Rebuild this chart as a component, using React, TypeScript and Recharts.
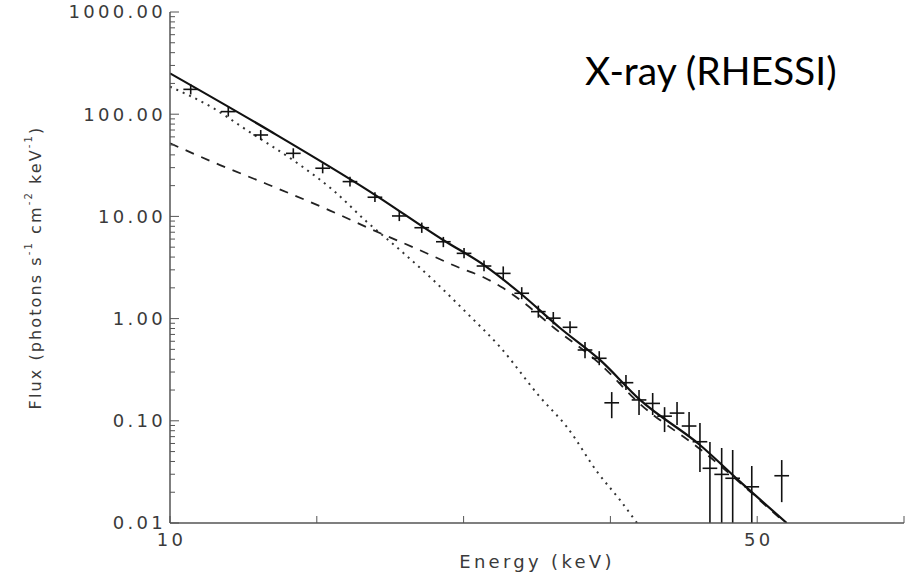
import { ComposedChart, Line, Scatter, XAxis, YAxis, ErrorBar } from 'recharts'

// axis ticks
const energyTicks = [10, 20, 30, 40, 50, 60]
const energyLabels = [10, 50]
const fluxMajor = [0.01, 0.1, 1, 10, 100, 1000]
const minorSteps = [2, 3, 4, 5, 6, 7, 8, 9]

// RHESSI count spectrum points (keV, photons s^-1 cm^-2 keV^-1)
const pointEnergy = [11.41, 13.97, 16.18, 18.4, 20.4, 22.26, 23.96, 25.62, 27.15, 28.62, 30.03, 31.39, 32.7, 33.96, 35.09, 36.11, 37.25, 38.27, 39.24, 40.09, 41.06, 41.95, 42.88, 43.69, 44.54, 45.36, 46.1, 46.78, 47.58, 48.33, 49.63, 51.67]
const pointFlux = [175, 106, 62.6, 41.4, 29.6, 21.9, 15.4, 10.1, 7.75, 5.65, 4.35, 3.27, 2.77, 1.77, 1.17, 1.01, 0.822, 0.493, 0.409, 0.15, 0.236, 0.16, 0.148, 0.111, 0.119, 0.0889, 0.0624, 0.0343, 0.0299, 0.0274, 0.0226, 0.029]
const pointLow = [156, 95, 56, 37, 26.4, 19.6, 13.8, 9.0, 6.9, 5.0, 3.9, 2.9, 2.37, 1.55, 1.02, 0.88, 0.72, 0.41, 0.35, 0.106, 0.2, 0.114, 0.114, 0.0776, 0.091, 0.0693, 0.0316, 0.01, 0.01, 0.01, 0.01, 0.016]
const pointHigh = [196, 119, 70, 46.4, 33.1, 24.5, 17.2, 11.3, 8.7, 6.3, 4.9, 3.7, 3.24, 2.03, 1.34, 1.16, 0.94, 0.59, 0.48, 0.191, 0.281, 0.2, 0.187, 0.136, 0.153, 0.122, 0.0951, 0.0621, 0.0542, 0.0518, 0.0361, 0.0413]
const binHalfWidth = 0.5

// total fit (solid)
const totalEnergy = [10, 16.81, 23.62, 28.6, 31.39, 33.84, 36.57, 39.29, 42.02, 46.1, 48.83, 52.01]
const totalFlux = [251, 68.5, 17.5, 5.88, 3.34, 1.78, 0.809, 0.394, 0.16, 0.058, 0.0254, 0.01]

// non-thermal component (dashed)
const nonThermalEnergy = [10, 13.41, 16.47, 20.9, 23.83, 26.83, 29.75, 31.32, 32.7, 34.05, 36.09, 39.29, 42.02, 46.1, 51.9]
const nonThermalFlux = [51.9, 31.8, 21.1, 11.4, 7.36, 4.8, 3.13, 2.55, 1.99, 1.45, 0.828, 0.36, 0.146, 0.053, 0.01]

// thermal component (dotted)
const thermalEnergy = [10, 12.93, 15.22, 18.86, 21.1, 23.42, 25.67, 27.92, 30.23, 32.48, 35.2, 37.04, 39.16, 40.65, 41.81]
const thermalFlux = [186, 115, 70, 31.8, 18.1, 8.81, 4.69, 2.39, 1.13, 0.528, 0.171, 0.0869, 0.0308, 0.0168, 0.01]

const FONT = '"DejaVu Sans", sans-serif'
const INK = '#3a3a3a'
const FRAME = '#555'

const toRows = (xs: number[], ys: number[]) => xs.map((x, i) => ({ x, y: ys[i] }))

const points = pointEnergy.map((e, i) => ({
  x: e,
  y: pointFlux[i],
  yErr: [pointFlux[i] - pointLow[i], pointHigh[i] - pointFlux[i]],
  xErr: binHalfWidth
}))

const fluxTicks = fluxMajor.flatMap(m =>
  m === 1000 ? [m] : [m, ...minorSteps.map(k => +(m * k).toPrecision(3))]
)

const textStyle = { fontFamily: FONT, fontSize: 18, letterSpacing: 3.3, fill: INK }

function LeftTick({ x, y, payload }: any) {
  const major = fluxMajor.includes(payload.value)
  const ax = x + 4
  return (
    <g>
      <line x1={ax} x2={ax + (major ? 9 : 5)} y1={y} y2={y} stroke={FRAME} strokeWidth={1} />
      {major && (
        <text x={x} y={y} dy="0.36em" textAnchor="end" {...textStyle}>
          {payload.value.toFixed(2)}
        </text>
      )}
    </g>
  )
}

function RightTick({ x, y, payload }: any) {
  const major = fluxMajor.includes(payload.value)
  return <line x1={x} x2={x - (major ? 9 : 5)} y1={y} y2={y} stroke={FRAME} strokeWidth={1} />
}

function BottomTick({ x, y, payload }: any) {
  const label = energyLabels.includes(payload.value)
  return (
    <g>
      <line x1={x} x2={x} y1={y} y2={y - 7} stroke={FRAME} strokeWidth={1} />
      {label && (
        <text x={x + 1.6} y={y + 17} dy="0.36em" textAnchor="middle" {...textStyle}>
          {payload.value}
        </text>
      )}
    </g>
  )
}

function TopTick({ x, y }: any) {
  return <line x1={x} x2={x} y1={y} y2={y + 7} stroke={FRAME} strokeWidth={1} />
}

function FluxLabel({ viewBox }: any) {
  const cx = (viewBox?.x ?? 0) + 35
  const cy = (viewBox?.y ?? 12) + (viewBox?.height ?? 511) / 2
  const sup = { fontSize: 10, dy: -7 }
  return (
    <text
      x={cx}
      y={cy}
      transform={`rotate(-90, ${cx}, ${cy})`}
      textAnchor="middle"
      dominantBaseline="central"
      fontFamily={FONT}
      fontSize={16}
      letterSpacing={2.1}
      fill={INK}
    >
      Flux (photons s<tspan {...sup}>-1</tspan>
      <tspan dy={7}> cm</tspan><tspan {...sup}>-2</tspan>
      <tspan dy={7}> keV</tspan><tspan {...sup}>-1</tspan>
      <tspan dy={7}>)</tspan>
    </text>
  )
}

function EnergyLabel({ viewBox }: any) {
  const cx = (viewBox?.x ?? 170) + (viewBox?.width ?? 734) / 2
  const cy = (viewBox?.y ?? 523) + 39
  return (
    <text x={cx} y={cy} dy="0.36em" textAnchor="middle" {...textStyle}>
      Energy (keV)
    </text>
  )
}

export default function App() {
  return (
    <div style={{ position: 'absolute', left: 0, top: 0, width: 907, height: 573, background: '#fff' }}>
      <ComposedChart width={907} height={573} margin={{ top: 12, right: 3, bottom: 0, left: 0 }}>
        <XAxis
          dataKey="x"
          type="number"
          domain={[10, 60]}
          ticks={energyTicks}
          interval={0}
          allowDataOverflow
          height={50}
          tickSize={0}
          tickMargin={0}
          tickLine={false}
          axisLine={{ stroke: FRAME, strokeWidth: 1.5 }}
          tick={(p: any) => <BottomTick {...p} />}
          label={(p: any) => <EnergyLabel {...p} />}
        />
        <XAxis
          xAxisId="top"
          orientation="top"
          dataKey="x"
          type="number"
          domain={[10, 60]}
          ticks={energyTicks}
          interval={0}
          allowDataOverflow
          height={0}
          tickSize={0}
          tickMargin={0}
          tickLine={false}
          axisLine={{ stroke: FRAME, strokeWidth: 1.5 }}
          tick={(p: any) => <TopTick {...p} />}
        />
        <YAxis
          dataKey="y"
          scale="log"
          type="number"
          domain={[0.01, 1000]}
          ticks={fluxTicks}
          interval={0}
          allowDataOverflow
          width={170}
          tickSize={0}
          tickMargin={4}
          tickLine={false}
          axisLine={{ stroke: FRAME, strokeWidth: 1.5 }}
          tick={(p: any) => <LeftTick {...p} />}
          label={(p: any) => <FluxLabel {...p} />}
        />
        <YAxis
          yAxisId="right"
          orientation="right"
          scale="log"
          type="number"
          domain={[0.01, 1000]}
          ticks={fluxTicks}
          interval={0}
          allowDataOverflow
          width={0}
          tickSize={0}
          tickMargin={0}
          tickLine={false}
          axisLine={{ stroke: FRAME, strokeWidth: 1.5 }}
          tick={(p: any) => <RightTick {...p} />}
        />

        {/* thermal (dotted) */}
        <Line
          data={toRows(thermalEnergy, thermalFlux)}
          dataKey="y"
          type="monotone"
          stroke="#333"
          strokeWidth={2}
          strokeDasharray="2 5"
          dot={false}
          activeDot={false}
          isAnimationActive={false}
        />
        {/* non-thermal (dashed) */}
        <Line
          data={toRows(nonThermalEnergy, nonThermalFlux)}
          dataKey="y"
          type="monotone"
          stroke="#222"
          strokeWidth={1.8}
          strokeDasharray="9 8"
          dot={false}
          activeDot={false}
          isAnimationActive={false}
        />
        {/* total fit (solid) */}
        <Line
          data={toRows(totalEnergy, totalFlux)}
          dataKey="y"
          type="monotone"
          stroke="#111"
          strokeWidth={2.2}
          dot={false}
          activeDot={false}
          isAnimationActive={false}
        />

        {/* data points drawn as error-bar crosses */}
        <Scatter data={points} dataKey="y" shape={() => <g />} isAnimationActive={false}>
          <ErrorBar dataKey="yErr" direction="y" width={0} stroke="#111" strokeWidth={1.6} isAnimationActive={false} />
          <ErrorBar dataKey="xErr" direction="x" width={0} stroke="#111" strokeWidth={1.6} isAnimationActive={false} />
        </Scatter>
      </ComposedChart>

      <svg width={907} height={573} style={{ position: 'absolute', left: 0, top: 0, pointerEvents: 'none' }}>
        <text x={585} y={85} fontFamily="Lato, sans-serif" fontSize={39} fill="#000">
          X-ray (RHESSI)
        </text>
      </svg>
    </div>
  )
}
